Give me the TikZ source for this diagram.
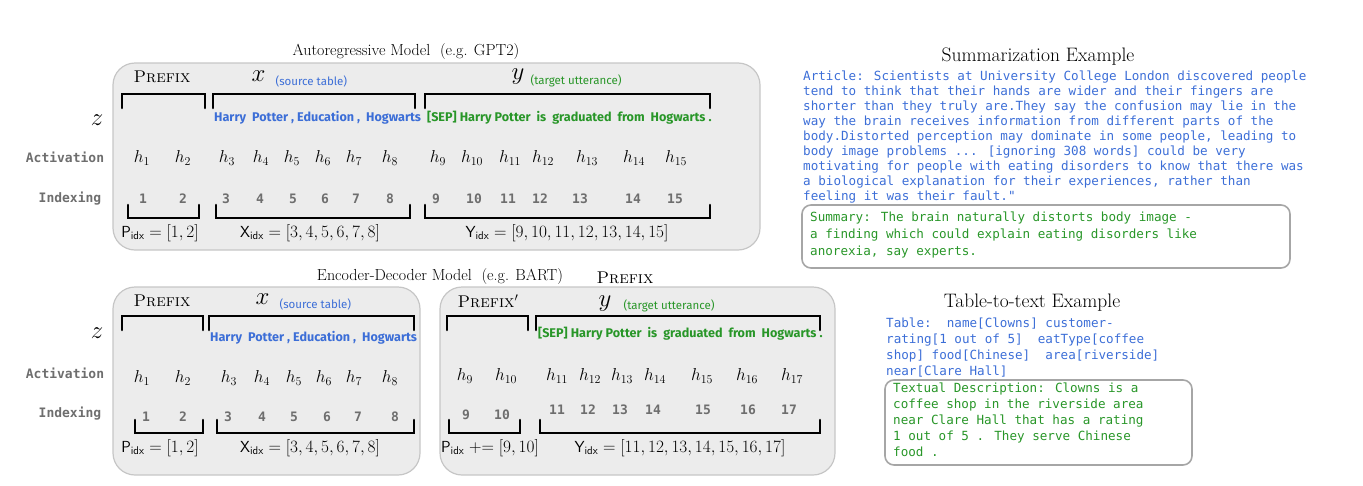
\documentclass[tikz,border=0pt]{standalone}
\usepackage{fontspec}
\usepackage{amsmath}
\newfontfamily\monof{DejaVu Sans Mono}
\newfontfamily\tokf{Fira Sans}
\definecolor{tblue}{RGB}{60,110,215}
\definecolor{tgreen}{RGB}{40,150,40}
\definecolor{lgray}{RGB}{110,110,110}
\begin{document}
\begin{tikzpicture}[x=1pt,y=-1pt,
 panel/.style={draw=gray!45,fill=gray!15,rounded corners=22,line width=1.2},
 title/.style={font=\fontsize{16}{18}\selectfont},
 bigtitle/.style={font=\fontsize{19.5}{22}\selectfont},
 pre/.style={font=\fontsize{17}{19}\selectfont\scshape},
 var/.style={font=\fontsize{28}{30}\selectfont},
 sub/.style={font=\tokf\fontsize{11.5}{13}\selectfont},
 tokb/.style={font=\tokf\bfseries\fontsize{12.6}{14}\selectfont,text=tblue,inner sep=0},
 tokg/.style={font=\tokf\bfseries\fontsize{12.6}{14}\selectfont,text=tgreen,inner sep=0},
 hh/.style={font=\fontsize{17}{19}\selectfont},
 ix/.style={font=\monof\bfseries\fontsize{13}{15}\selectfont,text=lgray},
 side/.style={font=\monof\bfseries\fontsize{13}{15}\selectfont,text=lgray},
 idx/.style={font=\fontsize{16}{18}\selectfont},
 br/.style={line width=2.6,line cap=round},
 art/.style={align=left,anchor=north west,inner sep=0},
 ebox/.style={draw=gray!70,rounded corners=9,line width=1.6}
]
\useasboundingbox (0,0) rectangle (1363,485);
% ---------- top panel ----------
\node[title] (t1) at (406,52) {Autoregressive Model\ \ (e.g. GPT2)};
\draw[panel] (113,63) rectangle (760,250);
\node[var] (z1) at (97,120) {$z$};
\node[side] (a1) at (65,157) {Activation};
\node[side] (i1) at (70,199) {Indexing};
\node[pre] (p1) at (162,77) {Prefix};
\node[var,anchor=west] (x1) at (248,76) {$x$};
\node[sub,text=tblue,anchor=west] (x1s) at (272,81) {(source table)};
\node[var,anchor=west] (y1) at (508,77) {$y$};
\node[sub,text=tgreen,anchor=west] (y1s) at (527,81) {(target utterance)};
\draw[br] (122,108)--(122,94)--(205,94)--(205,108);
\draw[br] (213,108)--(213,94)--(415,94)--(415,108);
\draw[br] (425,108)--(425,94)--(710,94)--(710,108);
\node[tokb,anchor=west] (tk1) at (214,118) {Harry\ \ Potter\ , Education\ ,\ \ Hogwarts};
\node[tokg,anchor=west] (tk2) at (427,118) {[SEP]\ Harry Potter\ \ is\ \ graduated\ \ from\ \ Hogwarts\ .};
\foreach \n/\x in {1/142,2/183,3/227,4/261,5/292,6/323,7/354,8/390,9/438,10/472,11/510,12/543,13/587,14/634,15/676}{
  \node[hh] (h\n) at (\x,158) {$h_{\n}$};}
\foreach \n/\x in {1/143,2/183,3/226,4/260,5/293,6/325,7/356,8/390,9/436,10/474,11/508,12/540,13/580,14/633,15/675}{
  \node[ix] (n\n) at (\x,199) {\n};}
\draw[br] (128,205)--(128,218)--(199,218)--(199,205);
\draw[br] (216,205)--(216,218)--(410,218)--(410,205);
\draw[br] (425,205)--(425,218)--(710,218)--(710,205);
\node[idx] (pi1) at (160,233) {$\mathsf{P}_{\mathsf{idx}}=[1,2]$};
\node[idx] (xi1) at (310,233) {$\mathsf{X}_{\mathsf{idx}}=[3,4,5,6,7,8]$};
\node[idx] (yi1) at (567,233) {$\mathsf{Y}_{\mathsf{idx}}=[9,10,11,12,13,14,15]$};
% ---------- bottom panels ----------
\node[title] (t2) at (440,277) {Encoder-Decoder Model\ \ (e.g. BART)};
\node[pre] (t2p) at (625,278) {Prefix};
\draw[panel] (113,287) rectangle (420,475);
\draw[panel] (440,287) rectangle (835,475);
\node[var] (z2) at (97,333) {$z$};
\node[side] (a2) at (65,373) {Activation};
\node[side] (i2) at (70,414) {Indexing};
\node[pre] (p2) at (162,301) {Prefix};
\node[var,anchor=west] (x2) at (252,299) {$x$};
\node[sub,text=tblue,anchor=west] (x2s) at (276,304) {(source table)};
\draw[br] (122,330)--(122,316)--(203,316)--(203,330);
\draw[br] (209,330)--(209,316)--(414,316)--(414,330);
\node[tokb,anchor=west] (tk3) at (210,338) {Harry\ \ Potter\ , Education\ ,\ \ Hogwarts};
\foreach \n/\x in {1/142,2/183,3/229,4/262,5/294,6/324,7/354,8/390}{
  \node[hh] (g\n) at (\x,378) {$h_{\n}$};}
\foreach \n/\x in {1/146,2/183,3/228,4/262,5/294,6/327,7/358,8/395}{
  \node[ix] (m\n) at (\x,417) {\n};}
\draw[br] (135,420)--(135,433)--(203,433)--(203,420);
\draw[br] (217,420)--(217,433)--(414,433)--(414,420);
\node[idx] (pi2) at (160,448) {$\mathsf{P}_{\mathsf{idx}}=[1,2]$};
\node[idx] (xi2) at (310,448) {$\mathsf{X}_{\mathsf{idx}}=[3,4,5,6,7,8]$};
% right panel
\node[pre] (p3) at (488,301) {Prefix$'$};
\node[var,anchor=west] (y3) at (595,304) {$y$};
\node[sub,text=tgreen,anchor=west] (y3s) at (620,306) {(target utterance)};
\draw[br] (447,330)--(447,316)--(528,316)--(528,330);
\draw[br] (536,330)--(536,316)--(820,316)--(820,330);
\node[tokg,anchor=west] (tk4) at (538,334) {[SEP]\ Harry Potter\ \ is\ \ graduated\ \ from\ \ Hogwarts\ .};
\foreach \n/\x in {9/465,10/506,11/557,12/590,13/622,14/655,15/702,16/747,17/792}{
  \node[hh] (k\n) at (\x,376) {$h_{\n}$};}
\foreach \n/\x in {9/466,10/502}{\node[ix] (q\n) at (\x,415) {\n};}
\foreach \n/\x in {11/557,12/588,13/620,14/653,15/703,16/748,17/789}{\node[ix] (q\n) at (\x,410) {\n};}
\draw[br] (449,420)--(449,433)--(520,433)--(520,420);
\draw[br] (540,420)--(540,433)--(820,433)--(820,420);
\node[idx] (pi3) at (490,448) {$\mathsf{P}_{\mathsf{idx}}\mathrel{+}=[9,10]$};
\node[idx] (yi3) at (680,448) {$\mathsf{Y}_{\mathsf{idx}}=[11,12,13,14,15,16,17]$};
% ---------- examples ----------
\node[bigtitle] (se) at (1038,57) {Summarization Example};
\node[art,text=tblue,font=\monof\fontsize{12.6}{15}\selectfont] (art) at (803,71) {Article: Scientists at University College London discovered people\\
tend to think that their hands are wider and their fingers are\\
shorter than they truly are.They say the confusion may lie in the\\
way the brain receives information from different parts of the\\
body.Distorted perception may dominate in some people, leading to\\
body image problems ... [ignoring 308 words] could be very\\
motivating for people with eating disorders to know that there was\\
a biological explanation for their experiences, rather than\\
feeling it was their fault."};
\draw[ebox] (802,205) rectangle (1290,268);
\node[art,text=tgreen,font=\monof\fontsize{12.6}{17}\selectfont] (sum) at (810,212) {Summary: The brain naturally distorts body image -\\
a finding which could explain eating disorders like\\
anorexia, say experts.};
\node[bigtitle] (te) at (1032,303) {Table-to-text Example};
\node[art,text=tblue,font=\monof\fontsize{12.6}{16}\selectfont] (tab) at (886,318) {Table:\ \ name[Clowns] customer-\\
rating[1 out of 5]\ \ eatType[coffee\\
shop] food[Chinese]\ \ area[riverside]\\
near[Clare Hall]};
\draw[ebox] (885,380) rectangle (1192,465);
\node[art,text=tgreen,font=\monof\fontsize{12.6}{16}\selectfont] (desc) at (893,383) {Textual Description: Clowns is a\\
coffee shop in the riverside area\\
near Clare Hall that has a rating\\
1 out of 5 . They serve Chinese\\
food .};
\end{tikzpicture}
\end{document}
